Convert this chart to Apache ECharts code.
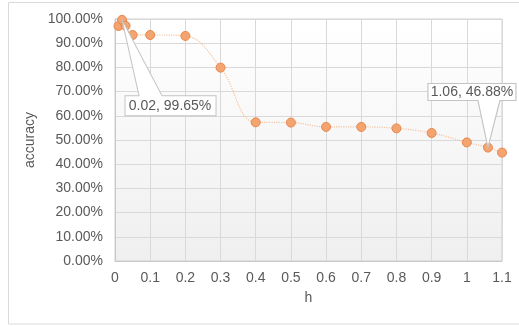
<!DOCTYPE html>
<html><head><meta charset="utf-8">
<style>html,body{margin:0;padding:0;background:#fff}#c{width:519px;height:326px}</style>
<script src="https://cdn.jsdelivr.net/npm/echarts@6/dist/echarts.min.js"></script>
</head><body><div id="c"></div>
<script>
const hValues = [0.01, 0.02, 0.03, 0.05, 0.1, 0.2, 0.3, 0.4, 0.5, 0.6, 0.7, 0.8, 0.9, 1.0, 1.06, 1.1];
const accuracy = [0.971, 0.9965, 0.972, 0.934, 0.934, 0.930, 0.799, 0.573, 0.572, 0.554, 0.554, 0.548, 0.529, 0.490, 0.4688, 0.448];
const xTicks = [0, 0.1, 0.2, 0.3, 0.4, 0.5, 0.6, 0.7, 0.8, 0.9, 1, 1.1];
const yTickStep = 0.1;
const callouts = [[0.02, 0.9965], [1.06, 0.4688]];

const pct = v => (v * 100).toFixed(2) + '%';
const chart = echarts.init(document.getElementById('c'));
const textColor = '#595959';
const font = 'Liberation Sans, Arial, sans-serif';

const calloutStyles = [
  { path: 'path://M0 0 L40 76 L94 76 L94 96 L3 96 L3 76 L17 76 Z', size: [94, 96], offset: [47, 48], labelOffset: [1, 38] },
  { path: 'path://M60 64 L50 17 L0 17 L0 0 L88 0 L88 17 L72 17 Z', size: [88, 64], offset: [-16, -32], labelOffset: [0, -23.5] }
];

chart.setOption({
  animation: false,
  backgroundColor: '#fff',
  graphic: [{
    type: 'rect', z: -10, silent: true,
    shape: { x: 8.5, y: 2.5, width: 530, height: 321.5 },
    style: { fill: 'none', stroke: '#d9d9d9', lineWidth: 1 }
  }],
  grid: {
    left: 115, right: 17, top: 19, bottom: 65,
    show: true,
    borderColor: '#d0d0d0', borderWidth: 1,
    backgroundColor: new echarts.graphic.LinearGradient(0, 0, 0, 1, [
      { offset: 0, color: '#ffffff' }, { offset: 1, color: '#efefef' }
    ])
  },
  xAxis: {
    type: 'value', min: xTicks[0], max: xTicks[xTicks.length - 1], interval: 0.1,
    name: 'h', nameLocation: 'middle', nameGap: 30,
    nameTextStyle: { color: textColor, fontSize: 14, fontFamily: font },
    axisLine: { lineStyle: { color: '#c8c8c8' } },
    axisTick: { show: false },
    axisLabel: { color: textColor, fontSize: 14, fontFamily: font, margin: 10,
      formatter: v => String(+v.toFixed(1)) },
    splitLine: { lineStyle: { color: '#d9d9d9' } }
  },
  yAxis: {
    type: 'value', min: 0, max: 1, interval: yTickStep,
    name: 'accuracy', nameLocation: 'middle', nameGap: 75,
    nameTextStyle: { color: textColor, fontSize: 14, fontFamily: font },
    axisLine: { show: true, lineStyle: { color: '#c8c8c8' } },
    axisTick: { show: false },
    axisLabel: { color: textColor, fontSize: 14, fontFamily: font, margin: 12, formatter: pct },
    splitLine: { lineStyle: { color: '#d9d9d9' } }
  },
  series: [{
    type: 'line',
    data: hValues.map((h, i) => [h, accuracy[i]]),
    smooth: 0.4,
    symbol: 'circle', symbolSize: 9,
    lineStyle: { color: '#f6c39e', width: 1.2, type: 'dotted' },
    itemStyle: { color: '#f3a46f', borderColor: '#e8874d', borderWidth: 1 },
    markPoint: {
      silent: true,
      data: callouts.map((c, i) => ({
        coord: c,
        symbol: calloutStyles[i].path,
        symbolSize: calloutStyles[i].size,
        symbolOffset: calloutStyles[i].offset,
        symbolKeepAspect: false,
        itemStyle: { color: '#ffffff', borderColor: '#c4c4c4', borderWidth: 1 },
        label: { show: true, position: 'inside', offset: calloutStyles[i].labelOffset,
          formatter: (+c[0].toFixed(2)) + ', ' + pct(c[1]),
          color: textColor, fontSize: 14, fontFamily: font }
      }))
    }
  }]
});
</script></body></html>
